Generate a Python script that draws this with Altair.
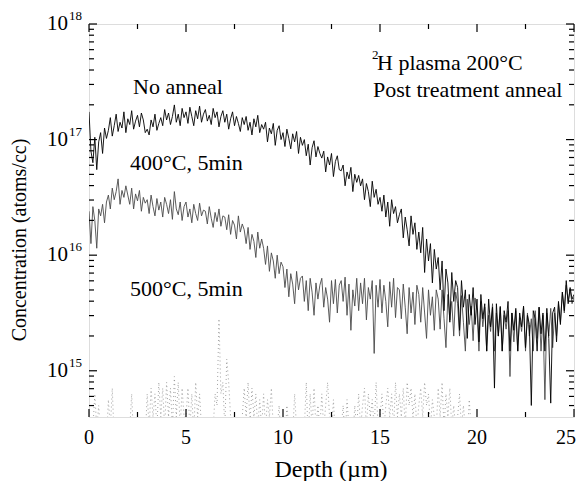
import altair as alt
import pandas as pd

# log10 concentration, sampled every 0.1 um from 0 to 25 um
no_anneal_log = [
    17.24, 16.90, 16.80, 17.02, 16.74, 16.98, 17.06, 16.88, 17.10, 17.01,
    17.08, 17.19, 17.03, 17.12, 17.22, 17.07, 17.15, 17.10, 17.24, 17.06,
    17.18, 17.13, 17.25, 17.09, 17.16, 17.21, 17.11, 17.23, 17.17, 17.06,
    17.09, 17.04, 17.17, 17.11, 17.22, 17.08, 17.14, 17.19, 17.12, 17.26,
    17.17, 17.23, 17.13, 17.20, 17.30, 17.15, 17.22, 17.12, 17.27, 17.19,
    17.24, 17.14, 17.28, 17.20, 17.12, 17.25, 17.18, 17.29, 17.15, 17.22,
    17.26, 17.16, 17.21, 17.13, 17.27, 17.19, 17.24, 17.11, 17.20, 17.25,
    17.15, 17.22, 17.09, 17.18, 17.24, 17.12, 17.20, 17.14, 17.07, 17.19,
    17.13, 17.20, 17.08, 17.15, 17.04, 17.18, 17.11, 17.21, 17.06, 17.13,
    17.09, 17.15, 16.98, 17.10, 17.05, 17.14, 16.95, 17.08, 17.12, 17.00,
    17.06, 16.94, 17.09, 17.01, 16.92, 17.05, 16.98, 17.07, 16.88, 17.02,
    16.95, 17.00, 16.86, 16.96, 16.78, 16.93, 16.99, 16.85, 16.94, 16.88,
    16.84, 16.90, 16.72, 16.85, 16.78, 16.88, 16.68, 16.81, 16.86, 16.74,
    16.73, 16.78, 16.60, 16.72, 16.66, 16.76, 16.55, 16.70, 16.63, 16.69,
    16.60, 16.66, 16.48, 16.62, 16.55, 16.42, 16.64, 16.50, 16.57, 16.44,
    16.50, 16.38, 16.52, 16.33, 16.46, 16.25, 16.48, 16.36, 16.42, 16.28,
    16.35, 16.40, 16.15, 16.33, 16.22, 16.08, 16.34, 16.18, 16.28, 16.05,
    16.20, 16.02, 16.24, 15.85, 16.14, 15.95, 16.10, 15.76, 16.05, 15.88,
    15.98, 15.70, 15.95, 15.52, 15.88, 15.76, 15.42, 15.85, 15.60, 15.78,
    15.72, 15.35, 15.78, 15.55, 15.70, 15.28, 15.66, 15.48, 15.72, 15.40,
    15.62, 15.25, 15.66, 15.45, 15.58, 15.17, 15.62, 15.38, 15.55, 14.85,
    15.58, 15.30, 15.55, 15.17, 15.52, 15.42, 15.60, 15.17, 15.50, 15.35,
    15.54, 15.17, 15.50, 15.38, 15.56, 15.20, 15.48, 15.40, 14.70, 15.52,
    15.45, 15.17, 15.55, 15.32, 15.50, 15.17, 15.54, 15.28, 14.72, 15.50,
    15.55, 15.25, 15.60, 15.40, 15.68, 15.52, 15.78, 15.58, 15.72, 15.62,
    15.66,
]

anneal_400_log = [
    16.38, 16.10, 16.42, 16.30, 16.06, 16.40, 16.34, 16.44, 16.28, 16.46,
    16.52, 16.40, 16.58, 16.48, 16.55, 16.66, 16.44, 16.56, 16.50, 16.60,
    16.52, 16.44, 16.58, 16.40, 16.53, 16.47, 16.56, 16.38, 16.50, 16.45,
    16.48, 16.36, 16.52, 16.42, 16.34, 16.49, 16.39, 16.46, 16.33, 16.50,
    16.44, 16.36, 16.48, 16.31, 16.55, 16.40, 16.35, 16.46, 16.30, 16.42,
    16.46, 16.33, 16.40, 16.28, 16.44, 16.36, 16.30, 16.45, 16.34, 16.39,
    16.38, 16.27, 16.42, 16.32, 16.24, 16.37, 16.29, 16.40, 16.25, 16.34,
    16.33, 16.22, 16.35, 16.18, 16.30, 16.26, 16.14, 16.34, 16.20, 16.27,
    16.22, 16.10, 16.24, 16.05, 16.18, 16.12, 15.98, 16.20, 16.06, 16.14,
    16.06, 15.92, 16.08, 15.86, 16.02, 15.95, 15.80, 16.00, 15.84, 15.94,
    15.90, 15.72, 15.88, 15.64, 15.84, 15.75, 15.58, 15.86, 15.70, 15.80,
    15.82, 15.60, 15.78, 15.52, 15.80, 15.68, 15.48, 15.76, 15.62, 15.74,
    15.80, 15.55, 15.72, 15.62, 15.42, 15.78, 15.58, 15.79, 15.50, 15.74,
    15.78, 15.60, 15.81, 15.48, 15.75, 15.35, 15.70, 15.56, 15.80, 15.52,
    15.76, 15.58, 15.80, 15.44, 15.72, 15.62, 15.78, 15.15, 15.74, 15.55,
    15.79, 15.50, 15.74, 15.60, 15.38, 15.77, 15.55, 15.80, 15.46, 15.72,
    15.70, 15.45, 15.75, 15.55, 15.32, 15.72, 15.50, 15.68, 15.40, 15.74,
    15.66, 15.42, 15.72, 15.50, 15.28, 15.70, 15.48, 15.64, 15.35, 15.70,
    15.62, 15.36, 15.70, 15.45, 15.20, 15.66, 15.44, 15.60, 15.30, 15.68,
    15.58, 15.30, 15.65, 15.42, 15.17, 15.62, 15.40, 15.56, 15.26, 15.63,
    15.52, 15.17, 15.60, 15.38, 15.55, 15.17, 15.48, 15.34, 15.58, 15.17,
    15.50, 15.30, 15.56, 15.17, 15.48, 15.36, 15.52, 14.95, 15.50, 15.25,
    15.52, 15.17, 15.46, 15.34, 15.55, 15.17, 15.50, 15.30, 15.45, 15.17,
    15.52, 15.28, 15.55, 15.17, 15.48, 14.75, 15.50, 15.30, 15.54, 15.20,
    15.50, 15.30, 15.58, 15.42, 15.68, 15.50, 15.74, 15.60, 15.70, 15.58,
    15.64,
]

anneal_500_log = [
    14.50, 14.40, 14.50, 14.80, 14.50, 14.70, 14.40, 14.60, 14.50, 14.40,
    14.75, 14.50, 14.85, 14.40, 14.60, 14.50, 14.40, 14.50, 14.40, 14.50,
    14.40, 14.50, 14.80, 14.40, 14.50, 14.40, 14.50, 14.40, 14.60, 14.40,
    14.80, 14.50, 14.85, 14.60, 14.80, 14.50, 14.90, 14.60, 14.85, 14.50,
    14.90, 14.60, 14.85, 14.50, 14.95, 14.60, 14.90, 14.50, 14.85, 14.60,
    14.60, 14.85, 14.50, 14.80, 14.45, 14.90, 14.60, 14.80, 14.50, 14.40,
    14.50, 14.40, 14.50, 14.60, 14.50, 14.80, 14.70, 15.45, 14.80, 14.90,
    14.50, 15.10, 14.90, 14.60, 14.50, 14.40, 14.50, 14.40, 14.50, 14.60,
    14.85, 14.60, 14.90, 14.55, 14.85, 14.60, 14.80, 14.50, 14.75, 14.50,
    14.80, 14.50, 14.75, 14.60, 14.85, 14.50, 14.40, 14.50, 14.70, 14.40,
    14.50, 14.40, 14.70, 14.50, 14.60, 14.45, 14.80, 14.50, 14.40, 14.50,
    14.60, 14.50, 14.90, 14.40, 14.80, 14.50, 14.85, 14.50, 14.70, 14.50,
    14.80, 14.50, 14.70, 14.90, 14.60, 14.50, 14.75, 14.40, 14.60, 14.50,
    14.50, 14.70, 14.40, 14.75, 14.50, 14.60, 14.40, 14.70, 14.50, 14.80,
    14.50, 14.70, 14.85, 14.50, 14.80, 14.60, 14.75, 14.50, 14.90, 14.50,
    14.60, 14.80, 14.50, 14.70, 14.85, 14.60, 14.80, 14.50, 14.90, 14.60,
    14.80, 14.60, 14.85, 14.50, 14.90, 14.70, 14.85, 14.60, 14.80, 14.50,
    14.70, 14.85, 14.60, 14.90, 14.70, 14.80, 14.50, 14.75, 14.60, 14.50,
    14.85, 14.60, 14.90, 14.50, 14.80, 14.60, 14.85, 14.50, 14.70, 14.50,
    14.60, 14.80, 14.50, 14.70, 14.50, 14.40, 14.75, 14.50, 14.40, 14.50,
    14.40, 14.50, 14.40,
]

x_major = [0, 5, 10, 15, 20, 25]
x_minor = [2.5, 7.5, 12.5, 17.5, 22.5]
y_major_exp = [15, 16, 17, 18]
y_minor = [m * 10.0 ** e for e in (14, 15, 16, 17) for m in range(2, 10) if m * 10.0 ** e >= 5e14]

W, H = 485, 393
FONT = "Liberation Serif"
X_DOMAIN = [0, 25]
Y_DOMAIN = [10 ** 14.6, 1e18]


def series(vals):
    return pd.DataFrame({"depth": [i / 10 for i in range(len(vals))],
                         "conc": [10 ** v for v in vals]})


xs = alt.Scale(domain=X_DOMAIN, nice=False, zero=False)
ys = alt.Scale(type="log", domain=Y_DOMAIN, nice=False)
x_enc = alt.X("depth:Q", scale=xs, axis=None)
y_enc = alt.Y("conc:Q", scale=ys, axis=None)

line_500 = alt.Chart(series(anneal_500_log)).mark_line(
    color="#8a8a8a", strokeWidth=0.8, strokeDash=[1, 3], clip=True
).encode(x=x_enc, y=y_enc)

line_400 = alt.Chart(series(anneal_400_log)).mark_line(
    color="#4a4a4a", strokeWidth=0.9, clip=True
).encode(x=x_enc, y=y_enc)

line_none = alt.Chart(series(no_anneal_log)).mark_line(
    color="black", strokeWidth=0.9, clip=True
).encode(x=x_enc, y=y_enc)

xmaj = pd.DataFrame({"depth": x_major, "lab": [str(v) for v in x_major]})
xmin = pd.DataFrame({"depth": x_minor})
ymaj = pd.DataFrame({"conc": [10.0 ** e for e in y_major_exp], "exp": [str(e) for e in y_major_exp]})
ymin = pd.DataFrame({"conc": y_minor})

rules = []
for df, ln in ((xmaj, 8), (xmin, 5)):
    rules.append(alt.Chart(df).mark_rule(color="black", strokeWidth=1.2).encode(
        x=x_enc, y=alt.value(H), y2=alt.value(H - ln)))
    rules.append(alt.Chart(df).mark_rule(color="black", strokeWidth=1.2).encode(
        x=x_enc, y=alt.value(0), y2=alt.value(ln)))
for df, ln in ((ymaj, 8), (ymin, 5)):
    rules.append(alt.Chart(df).mark_rule(color="black", strokeWidth=1.2).encode(
        y=y_enc, x=alt.value(0), x2=alt.value(ln)))
    rules.append(alt.Chart(df).mark_rule(color="black", strokeWidth=1.2).encode(
        y=y_enc, x=alt.value(W - ln), x2=alt.value(W)))

xlab_inner = alt.Chart(xmaj).transform_filter(alt.datum.depth < 25).mark_text(
    font=FONT, fontSize=20, align="center", baseline="middle", color="black"
).encode(x=x_enc, y=alt.value(H + 21), text="lab:N")
xlab_last = alt.Chart(xmaj).transform_filter(alt.datum.depth >= 25).mark_text(
    font=FONT, fontSize=20, align="right", baseline="middle", color="black", dx=2
).encode(x=x_enc, y=alt.value(H + 21), text="lab:N")
ten = alt.Chart(ymaj).mark_text(text="10", font=FONT, fontSize=21, align="right",
                                baseline="middle", color="black").encode(
    y=y_enc, x=alt.value(-21))
sup = alt.Chart(ymaj).mark_text(font=FONT, fontSize=13, align="left",
                                baseline="middle", dy=-8, color="black").encode(
    y=y_enc, x=alt.value(-20), text="exp:N")


def label(txt, x, y, size=22, angle=0, align="left"):
    return alt.Chart(pd.DataFrame({"t": [txt]})).mark_text(
        font=FONT, fontSize=size, align=align, baseline="middle", color="black", angle=angle
    ).encode(text="t:N", x=alt.value(x), y=alt.value(y))


texts = [
    label("No anneal", 44, 63),
    label("400°C, 5min", 41, 139),
    label("500°C, 5min", 41, 265),
    label("2", 283, 31, size=13),
    label("H plasma 200°C", 288, 39),
    label("Post treatment anneal", 284, 66),
    label("Depth (µm)", 242, 446, size=24, align="center"),
    label("Concentration (atoms/cc)", -69, 216, size=20, angle=270, align="center"),
]

chart = alt.layer(line_500, line_400, line_none, *rules, xlab_inner, xlab_last,
                  ten, sup, *texts).properties(
    width=W, height=H,
    autosize=alt.AutoSizeParams(type="none"),
    padding={"left": 81, "top": 16, "right": 2, "bottom": 64},
).configure_view(stroke="black", strokeWidth=1.5).configure(background="white")

chart.save("out.html", embed_options={"renderer": "svg", "actions": False})
